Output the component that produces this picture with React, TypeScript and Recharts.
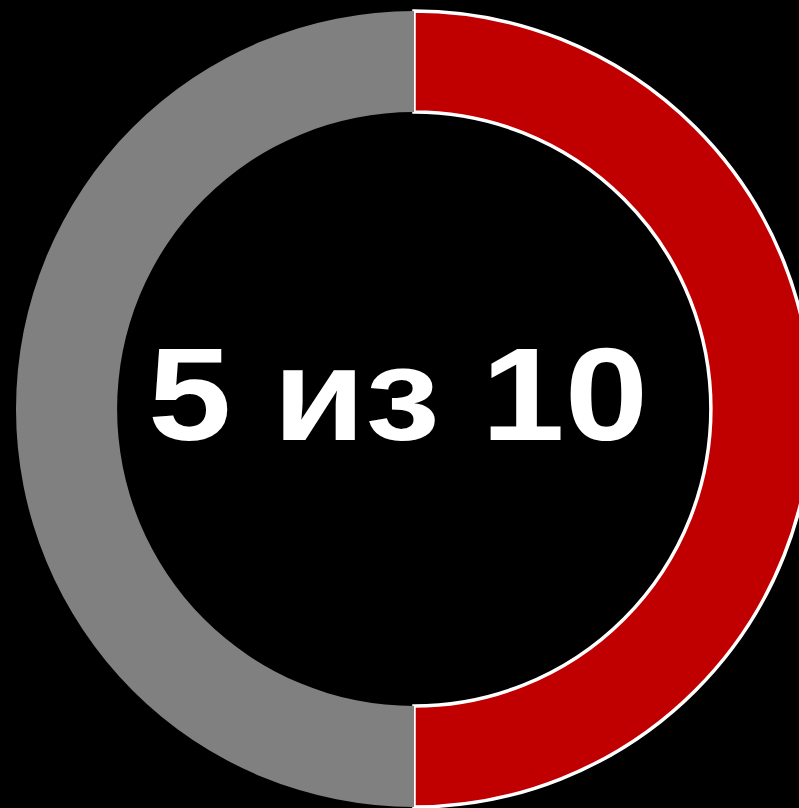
import { Pie, PieChart, Cell } from "recharts";

const labels = ["Выполнено", "Осталось"];
const values = [5, 5];
const colors = ["#C00000", "#808080"];
const strokes = ["#FFFFFF", "none"];
const centerText = "5 из 10";

const data = labels.map((name, i) => ({ name, value: values[i] }));

export default function App() {
  return (
    <div
      style={{
        position: "absolute",
        left: 0,
        top: 0,
        width: 799,
        height: 808,
        overflow: "hidden",
        background: "#000000",
      }}
    >
      <PieChart width={830} height={820} margin={{ top: 0, right: 0, bottom: 0, left: 0 }}>
        <Pie
          data={data}
          dataKey="value"
          nameKey="name"
          cx={414}
          cy={409}
          innerRadius={297}
          outerRadius={398}
          startAngle={90}
          endAngle={-270}
          isAnimationActive={false}
        >
          {data.map((entry, index) => (
            <Cell
              key={entry.name}
              fill={colors[index]}
              stroke={strokes[index]}
              strokeWidth={index === 0 ? 3.5 : 0}
            />
          ))}
        </Pie>
        <text
          x={398}
          y={440}
          textAnchor="middle"
          fill="#FFFFFF"
          fontFamily="'Liberation Sans', Arial, sans-serif"
          fontWeight="bold"
          fontSize={131}
          textLength={500}
          lengthAdjust="spacingAndGlyphs"
        >
          {centerText}
        </text>
      </PieChart>
    </div>
  );
}
